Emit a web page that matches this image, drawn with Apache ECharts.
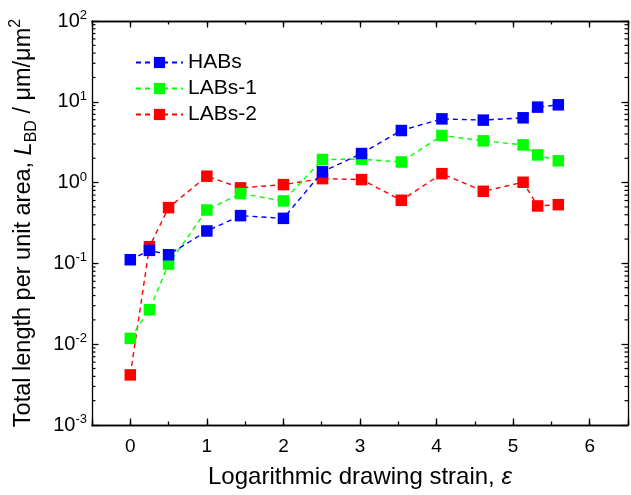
<!DOCTYPE html>
<html><head><meta charset="utf-8">
<script src="https://cdn.jsdelivr.net/npm/echarts@6/dist/echarts.min.js"></script>
<style>html,body{margin:0;padding:0;background:#fff}#c{width:631px;height:495px}</style>
</head><body><div id="c"></div>
<script>
// Data
const strain = [0, 0.25, 0.5, 1.0, 1.44, 2.0, 2.51, 3.02, 3.54, 4.07, 4.61, 5.13, 5.32, 5.59];
const habs   = [0.111, 0.145, 0.128, 0.252, 0.39, 0.361, 1.36, 2.29, 4.41, 6.15, 5.93, 6.34, 8.59, 9.18];
const labs1  = [0.0118, 0.0267, 0.098, 0.458, 0.731, 0.593, 1.93, 1.95, 1.80, 3.83, 3.29, 2.93, 2.20, 1.86];
const labs2  = [0.00417, 0.161, 0.49, 1.20, 0.86, 0.944, 1.12, 1.09, 0.604, 1.29, 0.78, 1.01, 0.514, 0.533];
const seriesNames = ['HABs', 'LABs-1', 'LABs-2'];
const seriesColors = ['#0000ff', '#00ff00', '#ff0000'];
const xMin = -0.5, xMax = 6.5, yMin = 0.001, yMax = 100;

const FONT = 'Liberation Sans';
const logMinor = [];
for (let k = Math.round(Math.log10(yMin)); k < Math.round(Math.log10(yMax)); k++)
  for (let m = 2; m < 10; m++) logMinor.push(m * Math.pow(10, k));

const lineCol = '#000';
function xAxisCfg(pos, minor, showLabel) {
  const a = {
    type: 'value', position: pos, min: xMin, max: xMax,
    axisLine: { show: true, onZero: false, lineStyle: { color: lineCol, width: 1.3 } },
    splitLine: { show: false },
    axisTick: { show: true, inside: true, length: minor ? 3.5 : 6.5, lineStyle: { color: lineCol, width: 1.3 } },
    axisLabel: { show: false }
  };
  if (minor) { a.interval = 0.5; }
  else { a.splitNumber = 7; }
  if (showLabel) {
    a.axisLabel = {
      show: true, margin: 12, color: '#000', fontFamily: FONT, fontSize: 19,
      formatter: v => (Math.abs(v - Math.round(v)) < 1e-6 ? String(Math.round(v)) : '')
    };
    a.name = 'Logarithmic drawing strain, {i|ε}';
    a.nameLocation = 'middle';
    a.nameGap = 40;
    a.nameTextStyle = { color: '#000', fontFamily: FONT, fontSize: 24,
      rich: { i: { fontFamily: FONT, fontSize: 24, fontStyle: 'italic', color: '#000' } } };
  }
  return a;
}
function yAxisCfg(pos, showLabel) {
  const a = {
    type: 'log', logBase: 10, position: pos, min: yMin, max: yMax,
    axisLine: { show: true, onZero: false, lineStyle: { color: lineCol, width: 1.3 } },
    splitLine: { show: false },
    axisTick: { show: true, inside: true, length: 6.5, lineStyle: { color: lineCol, width: 1.3 } },
    axisLabel: { show: false }
  };
  if (showLabel) {
    a.axisLabel = {
      show: true, margin: 5, color: '#000', fontFamily: FONT,
      formatter: v => '{b|10}{s|' + Math.round(Math.log10(v)) + '}',
      rich: {
        b: { fontFamily: FONT, fontSize: 20, lineHeight: 24, color: '#000' },
        s: { fontFamily: FONT, fontSize: 13, lineHeight: 24, verticalAlign: 'top', color: '#000' }
      }
    };
    a.name = 'Total length per unit area, {i|L}{sub|BD}{n| / μm/μm}{sup|2}';
    a.nameLocation = 'middle';
    a.nameGap = 52;
    a.nameTextStyle = {
      color: '#000', fontFamily: FONT, fontSize: 23.5, lineHeight: 32,
      rich: {
        i: { fontFamily: FONT, fontSize: 23.5, fontStyle: 'italic', lineHeight: 32, color: '#000' },
        sub: { fontFamily: FONT, fontSize: 16, lineHeight: 32, verticalAlign: 'bottom', color: '#000' },
        n: { fontFamily: FONT, fontSize: 23.5, lineHeight: 32, color: '#000' },
        sup: { fontFamily: FONT, fontSize: 16, lineHeight: 32, verticalAlign: 'top', color: '#000' }
      }
    };
  }
  return a;
}

const dataSets = [habs, labs1, labs2];
const lineSeries = dataSets.map((vals, i) => ({
  name: seriesNames[i], type: 'line', xAxisIndex: 0, yAxisIndex: 0,
  data: strain.map((x, j) => [x, vals[j]]),
  symbol: 'rect', symbolSize: 11.5,
  itemStyle: { color: seriesColors[i] },
  lineStyle: { color: seriesColors[i], width: 1.4, type: [5, 4] },
  z: 6 - i, animation: false
}));

const minorSeries = {
  type: 'custom', xAxisIndex: 0, yAxisIndex: 0, silent: true, z: 10, animation: false,
  data: logMinor.map(v => [0, v]),
  renderItem(params, api) {
    const cs = params.coordSys;
    const y = api.coord([0, api.value(1)])[1];
    const st = { stroke: '#000', lineWidth: 1.2 };
    return { type: 'group', children: [
      { type: 'line', shape: { x1: cs.x, y1: y, x2: cs.x + 3.5, y2: y }, style: st },
      { type: 'line', shape: { x1: cs.x + cs.width - 3.5, y1: y, x2: cs.x + cs.width, y2: y }, style: st }
    ]};
  }
};

const chart = echarts.init(document.getElementById('c'), null, { renderer: 'canvas' });
chart.setOption({
  animation: false,
  backgroundColor: '#fff',
  grid: { left: 92, right: 1, top: 21, bottom: 70, containLabel: false },
  legend: {
    data: seriesNames, orient: 'vertical', left: 135, top: 52,
    itemWidth: 47, itemHeight: 14, itemGap: 5, padding: 0,
    textStyle: { fontFamily: FONT, fontSize: 21, color: '#000' }
  },
  xAxis: [
    xAxisCfg('bottom', false, true),
    xAxisCfg('bottom', true, false),
    xAxisCfg('top', false, false),
    xAxisCfg('top', true, false)
  ],
  yAxis: [ yAxisCfg('left', true), yAxisCfg('right', false) ],
  series: [...lineSeries, minorSeries]
});
</script></body></html>
